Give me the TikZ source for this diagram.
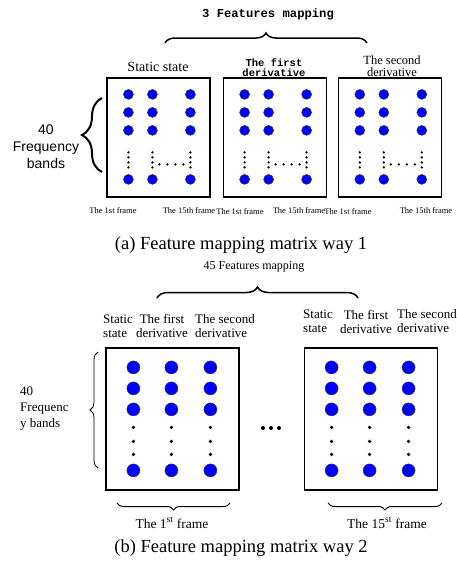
\documentclass[tikz,border=0pt]{standalone}
\usepackage{fontspec}
\setmainfont{Liberation Serif}
\newfontfamily\armono{Liberation Mono}
\newfontfamily\arsans{Liberation Sans}
\usepackage{tikz}
\usetikzlibrary{positioning, calc, decorations.pathreplacing}
\newcommand{\fsz}[2]{\fontsize{#1}{#2}\selectfont}

\begin{document}
\begin{tikzpicture}[
		x=1pt, y=-1pt,
		node distance=12pt,
		matbox/.style={draw, line width=1.2pt, inner sep=0pt},
		bigdot/.style={fill=blue, draw=black!80, line width=0.4pt},
		frametext/.style={font=\fsz{8.5}{9}},
		coltext/.style={font=\fsz{13}{14}, align=left, inner sep=0pt},
		curly/.style={decorate, decoration={brace, amplitude=#1}},
		caption/.style={font=\fsz{18.5}{20}}]

	\useasboundingbox (0,0) rectangle (457,563);

	% (a) one box for each feature
	\node[font=\armono\bfseries\fsz{12.2}{13}] (title_a) at (268,14) {3 Features mapping};

	\node[matbox, minimum width=103pt, minimum height=119pt] (box_static) at (158.5,137.5) {};
	\node[matbox, minimum width=103pt, minimum height=119pt, right=12pt of box_static] (box_first) {};
	\node[matbox, minimum width=103pt, minimum height=119pt, right=11pt of box_first] (box_second) {};

	\node[font=\fsz{14}{14}] (lbl_static) at (158,66.5) {Static state};
	\node[font=\armono\bfseries\fsz{10.5}{10.5}, align=center, inner sep=0pt] (lbl_first) at (274,67.5) {The first\\derivative};
	\node[font=\fsz{12.5}{12}, align=center, inner sep=0pt] (lbl_second) at (392,66) {The second\\derivative};

	\foreach \b in {box_static, box_first, box_second} {
		\foreach \dx in {22,46,84}
			\foreach \dy in {17,35,53,102}
				\fill[bigdot] ($(\b.north west)+(\dx,\dy)$) circle (5pt);
		\foreach \dx in {22,46,84}
			\foreach \dy in {75,80,85,90}
				\fill ($(\b.north west)+(\dx,\dy)$) circle (1.3pt);
		\foreach \dx in {53,61,69,77}
			\fill ($(\b.north west)+(\dx,87)$) circle (1.3pt);
	}

	\node[frametext] (f1_static) at (113,211) {The 1st frame};
	\node[frametext] (f15_static) at (189,211) {The 15th frame};
	\node[frametext] (f1_first) at (240,212) {The 1st frame};
	\node[frametext] (f15_first) at (299,211) {The 15th frame};
	\node[frametext] (f1_second) at (348,212) {The 1st frame};
	\node[frametext] (f15_second) at (426,211) {The 15th frame};

	\node[font=\arsans\fsz{14}{17}, align=center] (bands_a) at (46,147) {40\\Frequency\\bands};

	\coordinate (top_a_l) at (165,43);
	\coordinate (top_a_r) at (367,43);
	\coordinate (side_a_t) at (102,98);
	\coordinate (side_a_b) at (102,172);
	\draw[curly=10, line width=1.5pt] (top_a_l) -- (top_a_r);
	\draw[curly=20, line width=2pt] (side_a_b) -- (side_a_t);

	\node[caption] (cap_a) at (241,245) {(a) Feature mapping matrix way 1};

	% (b) one box for each frame
	\node[font=\fsz{12}{12}] (title_b) at (254,267) {45 Features mapping};

	\node[matbox, minimum width=133pt, minimum height=142pt] (frame_first) at (172.5,419) {};
	\node[matbox, minimum width=133pt, minimum height=142pt, right=64pt of frame_first] (frame_last) {};

	\node[coltext, anchor=west] (col_static_1) at (103,326) {Static\\state};
	\node[coltext, align=center] (col_first_1) at (162,326) {The first\\derivative};
	\node[coltext, anchor=west] (col_second_1) at (195,326) {The second\\derivative};
	\node[coltext, anchor=west] (col_static_15) at (303,321.5) {Static\\state};
	\node[coltext, align=center] (col_first_15) at (366,321.5) {The first\\derivative};
	\node[coltext, anchor=west] (col_second_15) at (397,321.5) {The second\\derivative};

	\foreach \b in {frame_first, frame_last} {
		\foreach \dx in {28,66,105} {
			\foreach \dy in {20,41,62,123}
				\fill[bigdot] ($(\b.north west)+(\dx,\dy)$) circle (6.5pt);
			\foreach \dy in {80,94,107}
				\fill ($(\b.north west)+(\dx,\dy)$) circle (1.8pt);
		}
	}

	\coordinate (gap_dots) at (271,428);
	\foreach \dx in {-8,0,8}
		\fill ($(gap_dots)+(\dx,0)$) circle (2pt);

	\node[font=\fsz{13}{16}, align=left, anchor=west, inner sep=0pt] (bands_b) at (20,409) {40\\Frequenc\\y bands};

	\coordinate (top_b_l) at (157,298);
	\coordinate (top_b_r) at (358,298);
	\coordinate (side_b_t) at (98,352);
	\coordinate (side_b_b) at (98,468);
	\coordinate (low_1_l) at (117,503);
	\coordinate (low_1_r) at (230,503);
	\coordinate (low_15_l) at (328,503);
	\coordinate (low_15_r) at (442,503);
	\draw[curly=11, line width=1.5pt] (top_b_l) -- (top_b_r);
	\draw[curly=8, line width=0.8pt] (side_b_b) -- (side_b_t);
	\draw[curly=7, line width=1pt] (low_1_r) -- (low_1_l);
	\draw[curly=7, line width=1pt] (low_15_r) -- (low_15_l);

	\node[font=\fsz{13.5}{14}] (lbl_frame_1) at (172,523) {The 1\textsuperscript{st} frame};
	\node[font=\fsz{13.5}{14}] (lbl_frame_15) at (387,523) {The 15\textsuperscript{st} frame};

	\node[caption] (cap_b) at (241,548) {(b) Feature mapping matrix way 2};

\end{tikzpicture}
\end{document}
